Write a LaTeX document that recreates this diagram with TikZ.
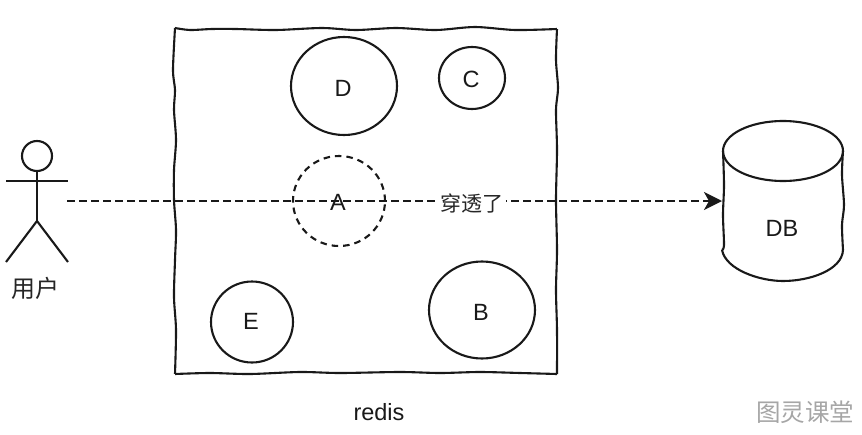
\documentclass[tikz,border=0pt]{standalone}
\usepackage{fontspec}
\setmainfont{Liberation Sans}
\newfontfamily\cjkfont{Noto Sans CJK SC}
\usetikzlibrary{shapes.geometric,arrows.meta}
\tikzset{
  ink/.style={draw=black!90,line width=2.1pt},
  blob/.style={ellipse,ink,inner sep=0pt},
  lab/.style={inner sep=0pt,font=\fontsize{23.5}{25}\selectfont,text=black!90},
  cjklab/.style={inner sep=0pt,font=\cjkfont\fontsize{24}{26}\selectfont,text=black!85},
  dashline/.style={line width=2.1pt,draw=black!90,dash pattern=on 8pt off 4pt},
}
\begin{document}
\begin{tikzpicture}[x=1pt,y=-1pt]
\useasboundingbox (0,0) rectangle (862,434);
% redis box
\draw[ink,line join=round] plot[smooth,tension=0.5] coordinates {(175,28) (190,30) (212,29) (236,29) (276,30) (322,28) (356,30) (396,28) (436,30) (475,27) (515,30) (557,29)};
\draw[ink] plot[smooth,tension=0.5] coordinates {(557,29) (556,60) (558,88) (556,110) (557,150) (556,200) (557,250) (556,290) (557,330) (557,374)};
\draw[ink] plot[smooth,tension=0.5] coordinates {(557,374) (520,373) (480,372) (440,373) (400,372) (340,373) (300,372) (250,374) (210,373) (175,374)};
\draw[ink] plot[smooth,tension=0.5] coordinates {(175,374) (176,330) (174,297) (175,260) (176,230) (174,200) (174,170) (176,140) (174,110) (175,90) (173,70) (175,28)};
% circles
\node[blob,minimum width=106pt,minimum height=98pt] (D) at (344,86) {};
\node[lab] (Dt) at (343,88) {D};
\node[blob,minimum width=66pt,minimum height=62pt] (C) at (472,78) {};
\node[lab] (Ct) at (471,79) {C};
\node[blob,dash pattern=on 6.5pt off 5pt,minimum width=92pt,minimum height=90pt] (A) at (339,201) {};
\node[lab] (At) at (338,202) {A};
\node[blob,minimum width=82pt,minimum height=81pt] (E) at (252,322) {};
\node[lab] (Et) at (251,321) {E};
\node[blob,minimum width=106pt,minimum height=97pt] (B) at (482,310) {};
\node[lab] (Bt) at (481,312) {B};
% actor
\node[circle,ink,minimum size=30pt,inner sep=0pt] (head) at (37,156) {};
\coordinate (armL) at (6,181);
\coordinate (armR) at (68,181);
\coordinate (hip) at (37,221);
\coordinate (legL) at (6,262);
\coordinate (legR) at (68,262);
\draw[ink] (head.south) -- (hip);
\draw[ink] (armL) -- (armR);
\draw[ink,line join=miter] (legL) -- (hip) -- (legR);
\node[cjklab] (user) at (36,288) {用户};
% DB
\draw[ink] plot[smooth,tension=0.5] coordinates {(723,151) (724,185) (723,215) (724,245) (722,250)};
\draw[ink] (722,250) .. controls (726,270) and (760,281) .. (783,281) .. controls (810,281) and (842,270) .. (843,250);
\draw[ink] plot[smooth,tension=0.5] coordinates {(843,250) (842,225) (844,205) (842,175) (843,151)};
\node[ellipse,ink,minimum width=120pt,minimum height=60pt,inner sep=0pt] (dbtop) at (783,151) {};
\node[lab] (db) at (782,228) {DB};
% connector
\coordinate (from) at (67,201);
\coordinate (to) at (722,201);
\draw[dashline,-{Stealth[length=18pt,width=18pt,inset=5pt]}] (from) -- (to);
\node[cjklab,fill=white,inner xsep=2pt,inner ysep=1pt,font=\cjkfont\fontsize{21}{24}\selectfont] (lbl) at (472,203) {穿透了};
\node[lab] (redis) at (379,412) {redis};
\node[inner sep=0pt,font=\cjkfont\fontsize{24.5}{26}\selectfont,text=black!35] (wm) at (805,412) {图灵课堂};
\end{tikzpicture}
\end{document}
